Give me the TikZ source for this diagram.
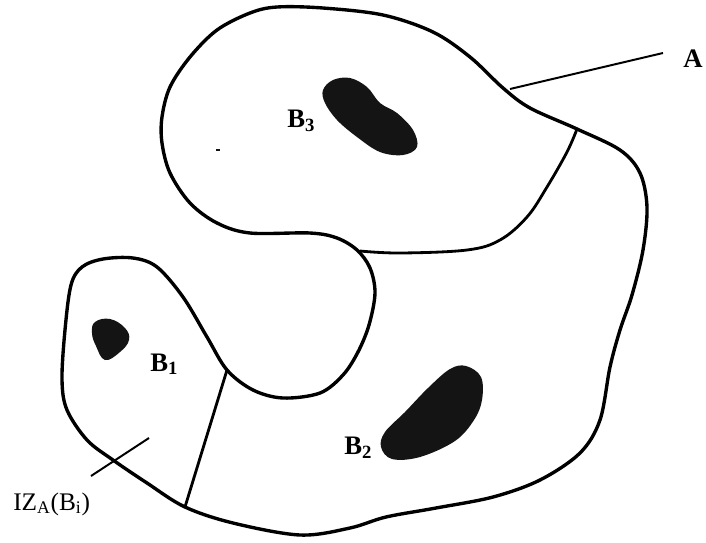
\documentclass[tikz,border=0pt]{standalone}
\usepackage{fontspec}
\setmainfont{Liberation Serif}
\usetikzlibrary{arrows.meta}
\definecolor{grainblack}{HTML}{141414}

\begin{document}
\begin{tikzpicture}[x=0.025cm, y=-0.025cm,
  outline/.style={line width=2.4pt, line join=round},
  divide/.style={line width=2pt, line cap=round},
  pointer/.style={line width=1.4pt},
  grain/.style={fill=grainblack},
  lbl/.style={font=\fontsize{19}{21}\selectfont\bfseries, inner sep=0pt, anchor=base west}]
  \useasboundingbox (0,0) rectangle (706,542);
  % outer boundary of A
  \draw[outline] plot[smooth cycle, tension=0.55] coordinates {
    (277,7) (323,8) (383,15) (433,32) (470,57) (503,88) (530,108) (577,129)
    (620,150) (640,173) (647,207) (643,250) (632,295) (620,330) (610,367)
    (600,420) (580,453) (540,480) (493,497) (436,508) (386,517) (350,528)
    (300,535) (233,523) (185,507) (147,483) (113,460) (87,440) (67,410)
    (62,380) (65,330) (71,285) (82,267) (103,259) (133,258) (157,267)
    (183,297) (207,337) (227,370) (253,390) (283,398) (320,393) (343,375)
    (358,352) (369,325) (375,293) (370,268) (357,250) (337,238) (310,233)
    (250,233) (217,223) (190,203) (170,173) (162,143) (162,117) (170,87)
    (190,57) (217,30) (250,13)};
  % boundaries between influence zones
  \draw[divide] plot[smooth, tension=0.6] coordinates {
    (577,129) (567,152) (547,187) (527,217) (500,240) (467,250) (400,253) (360,251)};
  \coordinate (dlow) at (185,507);
  \coordinate (dup) at (227,370);
  \draw[divide] (dup) -- (dlow);
  % grains
  \fill[grain] plot[smooth cycle, tension=0.7] coordinates {
    (95,322) (110,319) (125,328) (129,340) (120,352) (105,360) (96,346) (92,333)};
  \fill[grain] plot[smooth cycle, tension=0.6] coordinates {
    (466,366) (481,377) (482,400) (474,420) (455,441) (420,457) (392,459)
    (381,447) (385,432) (405,412) (428,388) (450,369)};
  \fill[grain] plot[smooth cycle, tension=0.6] coordinates {
    (350,78) (367,87) (380,103) (397,113) (413,130) (417,147) (403,155)
    (380,152) (357,137) (337,120) (325,103) (323,90) (333,80)};
  \fill[grainblack] (216,149) rectangle (220,151);
  % labels
  \node[lbl] (labB3) at (287,127) {B\textsubscript{3}};
  \node[lbl] (labB1) at (150,371) {B\textsubscript{1}};
  \node[lbl] (labB2) at (344,454) {B\textsubscript{2}};
  \node[lbl] (labA) at (683,67) {A};
  \node[lbl, font=\fontsize{18}{20}\selectfont] (labIZ) at (13,510) {IZ\textsubscript{A}(B\textsubscript{i})};
  \coordinate (tipA) at (663,53);
  \coordinate (ptA) at (510,89);
  \draw[pointer] (ptA) -- (tipA);
  \coordinate (tipIZ) at (91,476);
  \coordinate (ptIZ) at (149,438);
  \draw[pointer] (tipIZ) -- (ptIZ);
\end{tikzpicture}
\end{document}
